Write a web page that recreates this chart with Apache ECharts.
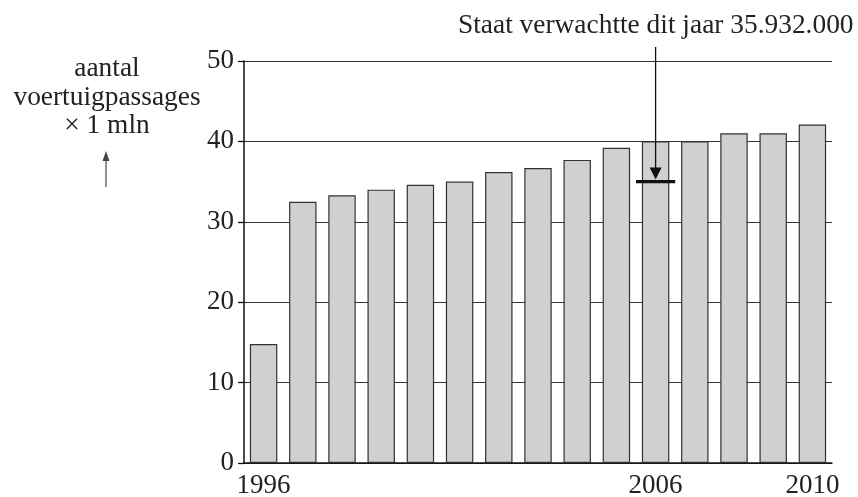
<!DOCTYPE html>
<html>
<head>
<meta charset="utf-8">
<script src="https://cdn.jsdelivr.net/npm/echarts@6/dist/echarts.min.js"></script>
<style>
  html, body { margin: 0; padding: 0; background: #fff; }
  #chart { width: 858px; height: 497px; }
</style>
</head>
<body>
<div id="chart"></div>
<script>
// voertuigpassages per jaar (x 1 mln)
var years = ['1996', '1997', '1998', '1999', '2000', '2001', '2002', '2003',
             '2004', '2005', '2006', '2007', '2008', '2009', '2010'];
var passages = [14.8, 32.5, 33.3, 34.0, 34.6, 35.0, 36.2, 36.7,
                37.7, 39.2, 40.0, 40.0, 41.0, 41.0, 42.1];
var shownYears = ['1996', '2006', '2010'];
var expectedYear = '2006';
var expectedValue = 35.0;

var serif = 'Liberation Serif';
var myChart = echarts.init(document.getElementById('chart'));

var option = {
    animation: false,
    grid: { left: 244, right: 26, top: 61, bottom: 34, outerBoundsMode: 'none' },
    title: {
        text: 'Staat verwachtte dit jaar 35.932.000',
        left: 453,
        top: 7,
        textStyle: { fontFamily: serif, fontSize: 27.4, fontWeight: 'normal', color: '#222' }
    },
    graphic: [
        {
            type: 'text',
            x: 107, y: 55,
            style: {
                text: 'aantal\nvoertuigpassages\n× 1 mln',
                align: 'center',
                verticalAlign: 'top',
                font: '27.4px "Liberation Serif"',
                lineHeight: 28.5,
                fill: '#222'
            }
        },
        { type: 'line', shape: { x1: 106, y1: 187, x2: 106, y2: 158 }, style: { stroke: '#555', lineWidth: 1.3 } },
        { type: 'polygon', shape: { points: [[102.5, 161], [109.5, 161], [106, 151]] }, style: { fill: '#444' } }
    ],
    xAxis: [
        {
            type: 'category',
            data: years,
            axisLine: { lineStyle: { color: '#111', width: 1.5 } },
            axisTick: { length: 6, lineStyle: { color: '#111', width: 1.3 } },
            axisLabel: {
                interval: 0,
                margin: 9,
                fontFamily: serif, fontSize: 27, color: '#222',
                formatter: function (v) { return shownYears.indexOf(v) >= 0 ? v : ''; }
            },
            splitLine: { show: false }
        },
        {
            type: 'category',
            data: years,
            position: 'bottom',
            axisLine: { show: false },
            axisTick: { inside: true, length: 5, lineStyle: { color: '#111', width: 1.3 } },
            axisLabel: { show: false },
            splitLine: { show: false }
        }
    ],
    yAxis: {
        type: 'value',
        min: 0, max: 50, interval: 10,
        axisLine: { show: true, lineStyle: { color: '#111', width: 1.5 } },
        axisTick: { show: true, length: 6, lineStyle: { color: '#111', width: 1.3 } },
        axisLabel: { margin: 10, fontFamily: serif, fontSize: 27, color: '#222' },
        splitLine: { lineStyle: { color: '#333', width: 1 } }
    },
    series: [
        {
            type: 'bar',
            data: passages,
            barWidth: '70%',
            itemStyle: { color: '#d0d0d0', borderColor: '#333', borderWidth: 1.2 }
        },
        {
            type: 'custom',
            data: [[expectedYear, expectedValue]],
            encode: { x: 0, y: 1 },
            z: 5,
            renderItem: function (params, api) {
                var p = api.coord([api.value(0), api.value(1)]);
                var w = api.size([1, 0])[0];
                return {
                    type: 'group',
                    children: [
                        { type: 'line', shape: { x1: p[0] - w / 2, y1: p[1], x2: p[0] + w / 2, y2: p[1] },
                          style: { stroke: '#111', lineWidth: 3.3 } },
                        { type: 'line', shape: { x1: p[0], y1: 47, x2: p[0], y2: p[1] - 12 },
                          style: { stroke: '#111', lineWidth: 1.3 } },
                        { type: 'polygon', shape: { points: [[p[0] - 6, p[1] - 14], [p[0] + 6, p[1] - 14], [p[0], p[1] - 2]] },
                          style: { fill: '#111' } }
                    ]
                };
            }
        }
    ]
};
myChart.setOption(option);
</script>
</body>
</html>
